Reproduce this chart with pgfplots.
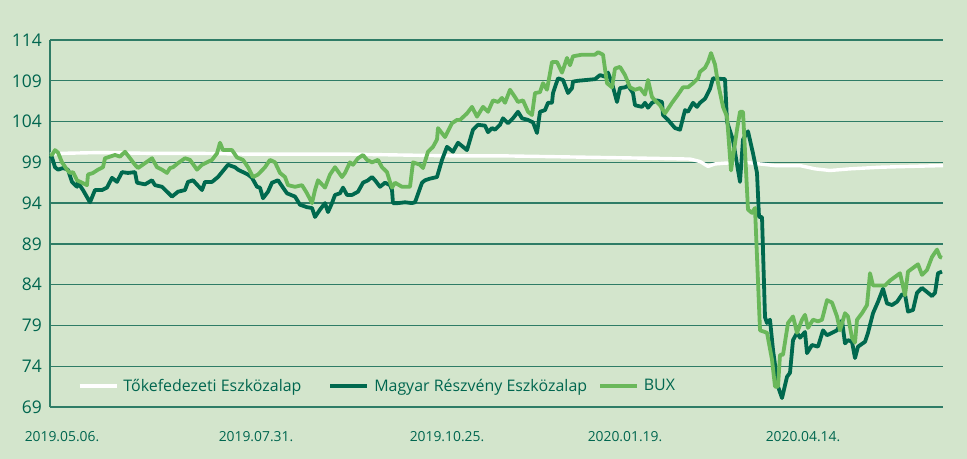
\documentclass[border=0pt]{standalone}
\usepackage{pgfplots}
\pgfplotsset{compat=1.18}
\usepackage{fontspec}
\setmainfont{Open Sans}
\definecolor{bg}{HTML}{D3E5CC}
\definecolor{dgreen}{HTML}{00694E}
\definecolor{lgreen}{HTML}{6AB85A}
\definecolor{gridc}{HTML}{2E7C66}
\definecolor{txt}{HTML}{00664F}
\begin{document}
\begin{tikzpicture}
\fill[bg,use as bounding box] (-50bp,-52bp) rectangle (917bp,407bp);
\begin{axis}[
  scale only axis,
  width=893bp, height=367bp,
  xmin=50, xmax=943, ymin=69, ymax=114,
  axis x line=bottom, axis y line=left,
  axis line style={-, draw=gridc, line width=1.3bp},
  ytick={69,74,...,114},
  ymajorgrids,
  major grid style={draw=gridc, line width=1.3bp},
  xtick={62,256,447,625,803},
  xticklabels={2019.05.06.,2019.07.31.,2019.10.25.,2020.01.19.,2020.04.14.},
  major tick length=0pt,
  /pgf/number format/assume math mode=true,
  yticklabel style={font=\fontsize{17.5}{20}\selectfont, text=txt, inner sep=0pt, xshift=-8bp},
  xticklabel style={font=\fontsize{13.9}{16}\selectfont, text=txt, inner sep=0pt, anchor=north, yshift=-24bp},
  legend style={draw=none, fill=none, inner sep=0pt, outer sep=0pt,
    at={(0.0314,0.0572)}, anchor=west, legend columns=3,
    font=\fontsize{16}{19}\selectfont, text=txt,
    nodes={inner sep=0pt},
    /tikz/every odd column/.append style={column sep=5bp},
    /tikz/every even column/.append style={column sep=11bp}},
  legend image code/.code={\draw[#1] (0bp,0bp) -- (37bp,0bp);},
  clip=false,
]
\addplot[white, line width=3.4bp, line join=round] coordinates {
(50,100.0)(60,100.1)(100,100.2)(150,100.1)(200,100.1)(250,100.0)(300,100.0)(350,100.0)(400,99.9)(450,99.8)(500,99.8)(550,99.7)(600,99.6)(650,99.5)(690,99.4)(700,99.1)(708,98.5)(715,98.8)(725,98.9)(745,99.0)(760,98.8)(775,98.6)(800,98.6)(815,98.2)(830,98.0)(850,98.2)(880,98.4)(910,98.5)(943,98.6)
};
\addlegendentry{Tőkefedezeti Eszközalap\kern16bp}
\addplot[dgreen, line width=3.8bp, line join=round] coordinates {
(50,99.8)(52,99.6)(55,98.4)(58,98.1)(63,98.3)(68,98.1)(72,96.6)(77,96.0)(78,96.5)(83,95.6)(90,94.1)(95,95.6)(102,95.6)(107,95.9)(112,97.1)(117,96.6)(122,97.8)(128,97.7)(135,97.8)(137,96.5)(145,96.3)(152,96.8)(155,96.2)(162,96.0)(172,94.8)(178,95.4)(185,95.6)(188,96.6)(193,96.8)(202,95.6)(205,96.6)(212,96.6)(218,97.2)(228,98.7)(235,98.4)(238,98.1)(248,97.5)(252,97.1)(257,96.0)(260,95.9)(263,94.6)(268,95.4)(272,96.5)(278,96.8)(283,95.9)(287,95.2)(295,94.8)(300,93.8)(307,93.5)(312,93.4)(315,92.3)(320,93.2)(325,94.0)(328,92.9)(332,94.0)(335,95.0)(340,95.2)(343,95.9)(347,95.0)(352,95.0)(358,95.4)(363,96.5)(368,96.8)(372,97.2)(375,96.8)(380,96.0)(385,96.5)(390,96.2)(392,95.6)(393,94.0)(398,94.0)(405,94.1)(412,94.0)(415,94.1)(422,96.5)(425,96.8)(430,97.0)(437,97.2)(442,99.3)(447,100.9)(453,100.3)(458,101.4)(467,100.5)(473,103.0)(478,103.6)(485,103.5)(488,102.7)(492,103.2)(495,103.0)(500,103.6)(503,104.4)(508,103.8)(513,104.4)(518,105.2)(522,104.4)(528,104.2)(533,103.9)(537,102.6)(540,105.2)(545,105.4)(548,106.3)(552,106.3)(553,107.5)(558,109.3)(563,109.1)(568,107.5)(572,108.1)(573,108.9)(578,109.0)(595,109.2)(600,109.7)(605,109.5)(608,110.0)(612,108.7)(617,106.4)(620,108.1)(625,108.2)(628,108.4)(633,107.5)(635,106.0)(642,105.8)(645,106.3)(648,105.7)(652,106.3)(657,106.6)(662,106.4)(663,104.8)(668,104.2)(675,103.2)(680,103.0)(685,105.4)(688,105.2)(693,106.3)(697,105.8)(700,106.3)(705,106.8)(710,108.0)(713,109.3)(725,109.2)(727,104.0)(733,101.7)(740,96.6)(743,101.8)(748,102.8)(753,100.1)(757,97.7)(759,92.3)(762,92.3)(765,80.0)(767,79.3)(770,79.7)(773,76.0)(778,71.5)(782,70.1)(787,72.7)(790,73.2)(793,77.2)(797,78.1)(800,77.5)(805,78.2)(807,75.6)(812,76.6)(818,76.4)(823,78.4)(827,77.8)(832,78.1)(837,78.4)(842,79.6)(845,76.8)(848,77.2)(852,77.0)(855,75.0)(858,76.4)(865,77.0)(868,78.1)(873,80.5)(878,81.9)(883,83.5)(887,81.7)(892,81.5)(897,81.9)(902,82.8)(905,82.8)(908,80.7)(913,80.9)(917,83.0)(922,83.6)(927,83.1)(932,82.6)(935,83.0)(938,85.4)(942,85.6)
};
\addlegendentry{Magyar Részvény Eszközalap}
\addplot[lgreen, line width=3.8bp, line join=round] coordinates {
(50,100.0)(52,99.9)(55,100.5)(58,100.2)(62,99.0)(67,98.1)(70,97.7)(73,97.8)(77,96.8)(82,96.5)(87,96.2)(88,97.5)(93,97.7)(98,98.1)(103,98.4)(105,99.5)(110,99.7)(115,99.9)(120,99.7)(125,100.3)(130,99.5)(135,98.7)(138,98.3)(145,98.9)(152,99.5)(157,98.4)(162,98.1)(167,97.7)(170,98.3)(173,98.4)(178,98.9)(185,99.5)(190,99.3)(197,98.1)(202,98.7)(207,99.0)(212,99.3)(217,100.1)(220,101.4)(223,100.5)(232,100.5)(237,99.6)(243,99.3)(248,98.4)(253,97.2)(258,97.5)(265,98.4)(270,99.3)(275,99.0)(280,97.7)(285,97.2)(288,96.2)(295,96.0)(302,96.2)(307,95.2)(312,94.0)(315,95.6)(318,96.8)(325,95.9)(330,97.5)(335,98.4)(342,97.2)(345,97.7)(350,99.0)(353,98.7)(358,99.5)(363,99.9)(367,99.3)(372,99.0)(378,99.3)(382,98.4)(387,97.8)(390,96.6)(392,95.9)(395,96.5)(402,96.0)(410,96.0)(413,99.0)(420,98.7)(423,98.3)(428,100.3)(433,100.9)(437,101.8)(438,103.2)(445,102.1)(452,103.8)(457,104.2)(460,104.2)(467,105.0)(472,105.8)(477,104.6)(483,105.8)(488,105.2)(493,106.6)(498,106.4)(502,106.9)(505,106.3)(510,107.9)(515,107.0)(518,106.4)(523,106.6)(528,105.2)(532,104.8)(535,107.5)(540,107.6)(543,108.7)(547,107.9)(552,111.3)(557,111.3)(562,110.0)(567,111.8)(570,110.9)(573,112.0)(582,112.2)(595,112.2)(598,112.5)(603,112.2)(607,108.7)(612,108.2)(615,110.5)(620,110.7)(625,109.7)(630,108.2)(635,107.9)(640,108.1)(645,107.3)(648,109.1)(652,107.0)(655,106.6)(660,106.0)(665,105.0)(672,106.3)(678,107.3)(683,108.2)(688,108.2)(693,108.7)(698,109.3)(700,110.1)(705,110.6)(708,111.3)(711,112.4)(715,111.0)(718,108.7)(723,105.8)(727,104.6)(731,98.0)(737,103.0)(740,105.2)(743,105.2)(748,93.2)(752,92.8)(755,93.4)(760,78.4)(767,78.1)(772,74.8)(775,71.5)(778,71.5)(780,75.4)(783,75.4)(788,79.3)(793,80.1)(797,78.1)(802,79.7)(805,80.3)(808,78.7)(813,79.7)(818,79.5)(822,79.7)(827,82.1)(832,81.8)(837,80.1)(840,78.4)(845,80.5)(848,80.1)(852,77.5)(855,76.9)(857,79.7)(862,80.5)(867,81.5)(870,85.4)(873,83.9)(885,83.9)(890,84.5)(900,85.4)(905,82.7)(908,85.6)(918,86.5)(922,85.2)(927,85.8)(932,87.4)(937,88.3)(940,87.4)(942,87.3)
};
\addlegendentry{BUX}
\end{axis}
\end{tikzpicture}
\end{document}
